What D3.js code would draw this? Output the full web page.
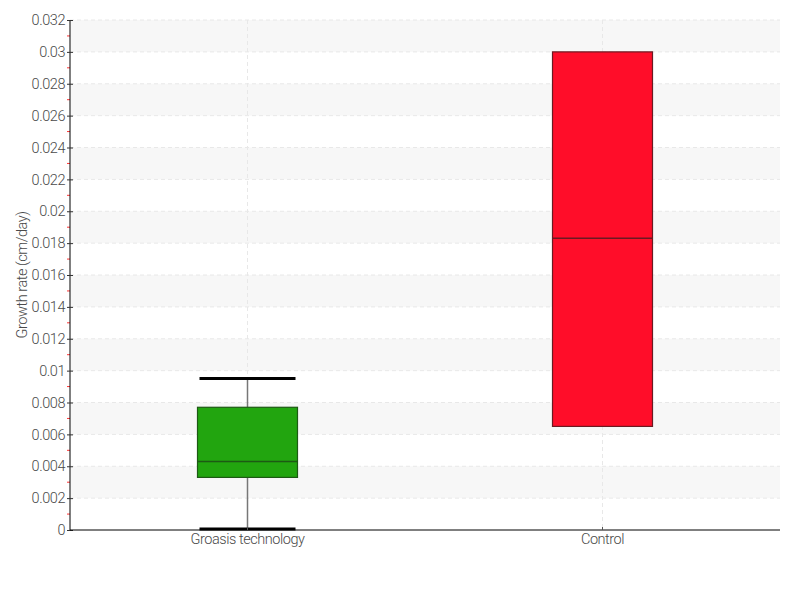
<!DOCTYPE html>
<html>
<head>
<meta charset="utf-8">
<script src="https://cdn.jsdelivr.net/npm/d3@7"></script>
<style>
  body { margin: 0; background: #fff; }
  text { font-family: Roboto, "Open Sans", sans-serif; font-weight: 300; }
</style>
</head>
<body>
<svg id="chart" width="800" height="600"></svg>
<script>
const categories = ["Groasis technology", "Control"];
const whiskerLow  = [0.00006, 0.0065];
const q1Values    = [0.0033, 0.0065];
const medians     = [0.0043, 0.0183];
const q3Values    = [0.0077, 0.0300];
const whiskerHigh = [0.0095, 0.0300];
const boxColors   = ["#22a50f", "#ff0d29"];
const boxStrokes  = ["#1d5a14", "#6b1a22"];
const yTicks      = [0, 0.002, 0.004, 0.006, 0.008, 0.01, 0.012, 0.014, 0.016, 0.018, 0.02, 0.022, 0.024, 0.026, 0.028, 0.03, 0.032];
const yTitle      = "Growth rate (cm/day)";

const svg = d3.select("#chart");
const margin = {left: 70, right: 20, top: 20, bottom: 70};
const W = 800, H = 600;
const FS = 14.5, LS = "-0.45", TXT = "#4a4a4a";
const x = d3.scaleBand().domain(categories).range([margin.left, W - margin.right]);
const y = d3.scaleLinear().domain([0, 0.032]).range([H - margin.bottom, margin.top]);

// shaded bands
const bands = [];
for (let i = 1; i + 1 < yTicks.length; i += 2) bands.push([yTicks[i], yTicks[i + 1]]);
svg.append("g").selectAll("rect").data(bands).join("rect")
  .attr("x", margin.left + 1).attr("width", W - margin.right - margin.left - 1)
  .attr("y", d => y(d[1])).attr("height", d => y(d[0]) - y(d[1]))
  .attr("fill", "#f7f7f7");

// horizontal grid
svg.append("g").selectAll("line").data(yTicks.slice(1)).join("line")
  .attr("x1", margin.left).attr("x2", W - margin.right)
  .attr("y1", d => y(d)).attr("y2", d => y(d))
  .attr("stroke", "#e8e8e8").attr("stroke-dasharray", "4,3");

// vertical grid
svg.append("g").selectAll("line").data(categories).join("line")
  .attr("x1", d => x(d) + x.bandwidth() / 2).attr("x2", d => x(d) + x.bandwidth() / 2)
  .attr("y1", margin.top).attr("y2", H - margin.bottom)
  .attr("stroke", "#e8e8e8").attr("stroke-dasharray", "4,3");

// boxes
const data = categories.map((c, i) => ({c, lo: whiskerLow[i], q1: q1Values[i], med: medians[i], q3: q3Values[i], hi: whiskerHigh[i], fill: boxColors[i], stroke: boxStrokes[i]}));
const boxW = 100, capW = 96;
const g = svg.append("g").selectAll("g").data(data).join("g");
const cx = d => x(d.c) + x.bandwidth() / 2;
g.filter(d => d.hi > d.q3).append("line")
  .attr("x1", cx).attr("x2", cx).attr("y1", d => y(d.hi)).attr("y2", d => y(d.q3))
  .attr("stroke", "#777").attr("stroke-width", 1.5);
g.filter(d => d.lo < d.q1).append("line")
  .attr("x1", cx).attr("x2", cx).attr("y1", d => y(d.q1)).attr("y2", d => y(d.lo))
  .attr("stroke", "#777").attr("stroke-width", 1.5);
g.append("rect")
  .attr("x", d => cx(d) - boxW / 2).attr("width", boxW)
  .attr("y", d => y(d.q3)).attr("height", d => y(d.q1) - y(d.q3))
  .attr("fill", d => d.fill).attr("stroke", d => d.stroke).attr("stroke-width", 1.2);
g.append("line")
  .attr("x1", d => cx(d) - boxW / 2).attr("x2", d => cx(d) + boxW / 2)
  .attr("y1", d => y(d.med)).attr("y2", d => y(d.med))
  .attr("stroke", d => d.stroke).attr("stroke-width", 1.5);
g.filter(d => d.hi > d.q3).append("line")
  .attr("x1", d => cx(d) - capW / 2).attr("x2", d => cx(d) + capW / 2)
  .attr("y1", d => y(d.hi)).attr("y2", d => y(d.hi))
  .attr("stroke", "#000").attr("stroke-width", 3);
g.filter(d => d.lo < d.q1).append("line")
  .attr("x1", d => cx(d) - capW / 2).attr("x2", d => cx(d) + capW / 2)
  .attr("y1", d => y(d.lo)).attr("y2", d => y(d.lo))
  .attr("stroke", "#000").attr("stroke-width", 3);

// minor ticks (red)
const minor = yTicks.slice(0, -1).map((t, i) => (t + yTicks[i + 1]) / 2);
svg.append("g").selectAll("line").data(minor).join("line")
  .attr("x1", margin.left - 3).attr("x2", margin.left)
  .attr("y1", d => y(d)).attr("y2", d => y(d))
  .attr("stroke", "#f33").attr("stroke-width", 1);

// y axis
const yAxis = svg.append("g").attr("transform", `translate(${margin.left},0)`)
  .call(d3.axisLeft(y).tickValues(yTicks).tickFormat(d => d3.format("")(+d.toFixed(3))).tickSize(3).tickPadding(2));
yAxis.select(".domain").attr("stroke", "#000").attr("d", `M0,${y(0.032)}V${y(0)}`);
yAxis.selectAll(".tick line").attr("x1", -3).attr("x2", 3).attr("stroke", "#333");
yAxis.selectAll(".tick text").attr("fill", TXT).attr("font-size", FS).style("font-family", "Roboto").style("font-weight", 300).attr("letter-spacing", LS);

// x axis
const xAxis = svg.append("g").attr("transform", `translate(0,${H - margin.bottom})`)
  .call(d3.axisBottom(x).tickSize(3).tickPadding(1));
xAxis.select(".domain").attr("stroke", "#000").attr("d", `M${margin.left},0H${W - margin.right}`);
xAxis.selectAll(".tick line").attr("y1", -3).attr("y2", 0).attr("stroke", "#555");
xAxis.selectAll(".tick text").attr("fill", TXT).attr("font-size", FS).style("font-family", "Roboto").style("font-weight", 300).attr("letter-spacing", LS);

// y title
svg.append("text")
  .attr("transform", `translate(27,${(y(0) + y(0.032)) / 2}) rotate(-90)`)
  .attr("text-anchor", "middle").attr("fill", TXT).attr("font-size", FS).attr("letter-spacing", LS)
  .text(yTitle);
</script>
</body>
</html>
